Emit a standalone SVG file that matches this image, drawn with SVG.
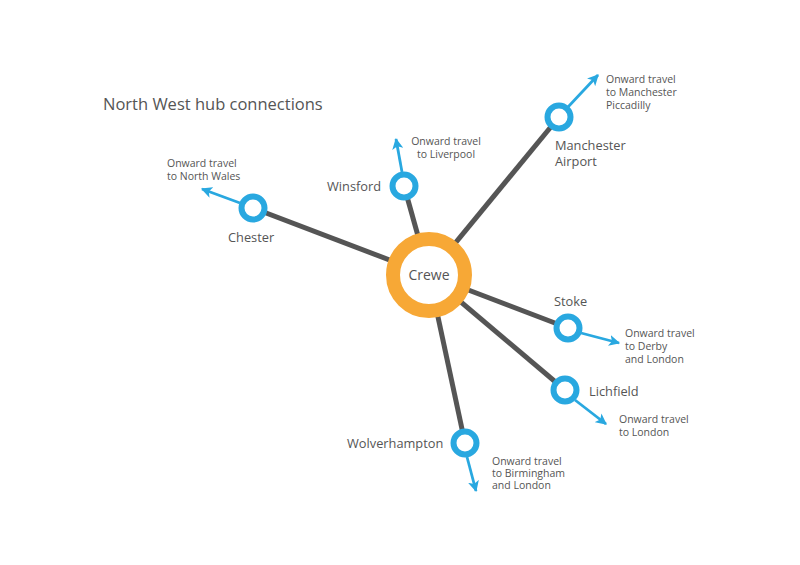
<svg xmlns="http://www.w3.org/2000/svg" width="800" height="565" viewBox="0 0 800 565">
<defs>
<marker id="ah" viewBox="0 0 10 10" refX="9" refY="5" markerWidth="4" markerHeight="4" orient="auto" markerUnits="strokeWidth"><path d="M0,0 L10,5 L0,10 L2.5,5 Z" fill="#29a8e0"/></marker>
</defs>
<style>
text{font-family:"Open Sans","Liberation Sans",sans-serif;fill:#555}
.t{font-size:16.5px}
.n{font-size:12.8px}
.o{font-size:10.5px}
.g{stroke:#555;stroke-width:5;fill:none}
.b{stroke:#29a8e0;stroke-width:2.8;fill:none;marker-end:url(#ah)}
.st{fill:#fff;stroke:#29a8e0;stroke-width:6}
</style>
<rect width="800" height="565" fill="#fff"/>
<text class="t" x="103" y="110">North West hub connections</text>
<g id="connectors">
<line class="g" x1="429" y1="275" x2="559" y2="117"/>
<line class="g" x1="429" y1="275" x2="253" y2="208"/>
<line class="g" x1="429" y1="275" x2="404" y2="186"/>
<line class="g" x1="429" y1="275" x2="568" y2="328"/>
<line class="g" x1="429" y1="275" x2="565" y2="390"/>
<line class="g" x1="429" y1="275" x2="465" y2="443"/>
<line class="b" x1="568" y1="107" x2="598" y2="75"/>
<line class="b" x1="240" y1="203" x2="202" y2="189"/>
<line class="b" x1="402" y1="172" x2="396" y2="139"/>
<line class="b" x1="581" y1="333" x2="619" y2="343"/>
<line class="b" x1="575" y1="400" x2="606" y2="424"/>
<line class="b" x1="467" y1="457" x2="476" y2="491"/>
</g>
<g id="crewe">
<circle cx="429" cy="275" r="36" fill="#fff" stroke="#f7a836" stroke-width="14"/>
<text x="429" y="280" text-anchor="middle" style="font-size:14px">Crewe</text>
</g>
<g id="manchester-airport">
<circle class="st" cx="559" cy="117" r="11.5"/>
<text class="n" x="555" y="150">Manchester</text>
<text class="n" x="555" y="166">Airport</text>
<text class="o" x="606" y="83">Onward travel</text>
<text class="o" x="606" y="96">to Manchester</text>
<text class="o" x="606" y="109">Piccadilly</text>
</g>
<g id="chester">
<circle class="st" cx="253" cy="208" r="11.5"/>
<text class="n" x="228" y="242">Chester</text>
<text class="o" x="167" y="167">Onward travel</text>
<text class="o" x="167" y="180">to North Wales</text>
</g>
<g id="winsford">
<circle class="st" cx="404" cy="186" r="11.5"/>
<text class="n" x="327" y="191">Winsford</text>
<text class="o" x="446" y="145" text-anchor="middle">Onward travel</text>
<text class="o" x="446" y="158" text-anchor="middle">to Liverpool</text>
</g>
<g id="stoke">
<circle class="st" cx="568" cy="328" r="11.5"/>
<text class="n" x="554" y="306">Stoke</text>
<text class="o" x="625" y="337">Onward travel</text>
<text class="o" x="625" y="350">to Derby</text>
<text class="o" x="625" y="363">and London</text>
</g>
<g id="lichfield">
<circle class="st" cx="565" cy="390" r="11.5"/>
<text class="n" x="589" y="396">Lichfield</text>
<text class="o" x="619" y="423">Onward travel</text>
<text class="o" x="619" y="436">to London</text>
</g>
<g id="wolverhampton">
<circle class="st" cx="465" cy="443" r="11.5"/>
<text class="n" x="347" y="448">Wolverhampton</text>
<text class="o" x="492" y="465">Onward travel</text>
<text class="o" x="492" y="477">to Birmingham</text>
<text class="o" x="492" y="489">and London</text>
</g>
</svg>
